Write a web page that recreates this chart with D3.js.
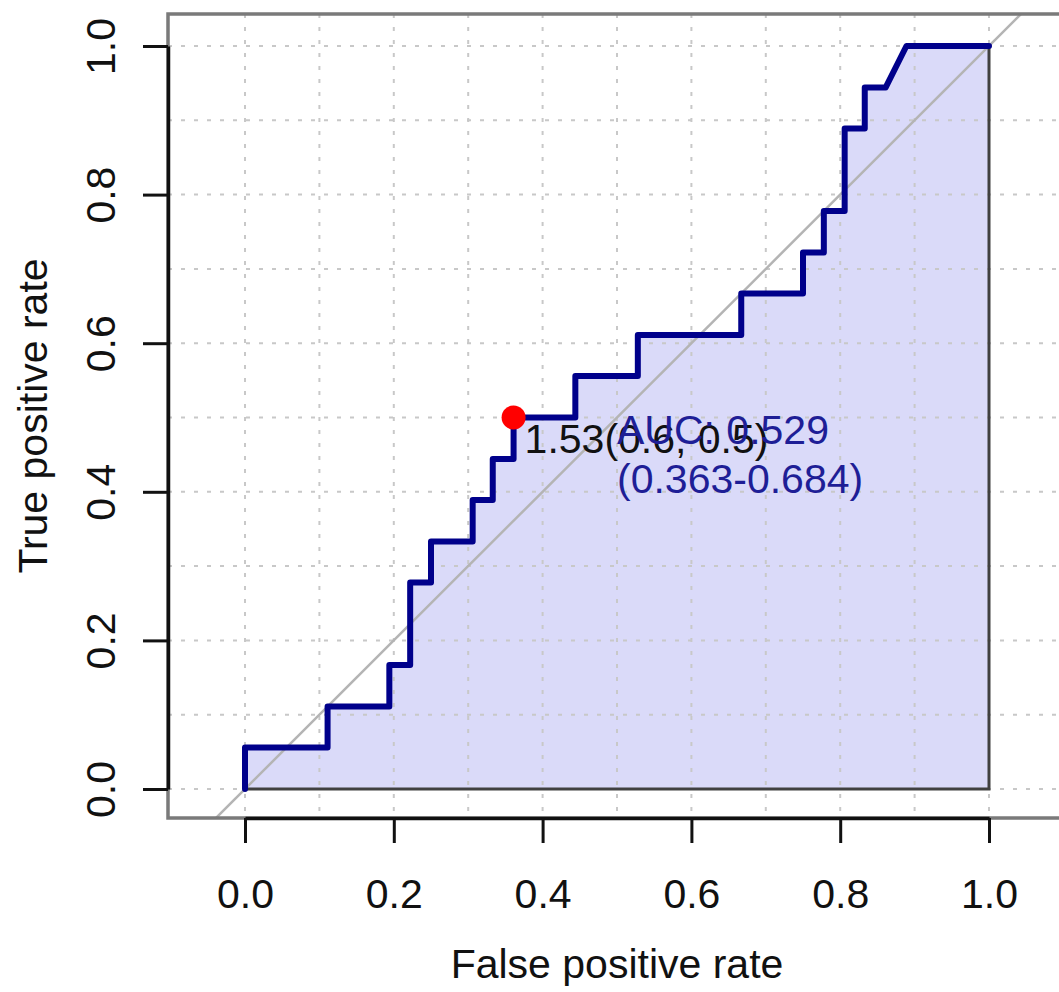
<!DOCTYPE html>
<html>
<head>
<meta charset="utf-8">
<script src="https://cdn.jsdelivr.net/npm/d3@7"></script>
<style>
  html, body { margin: 0; padding: 0; background: #fff; overflow: hidden; }
  svg { display: block; font-family: "Liberation Sans", Arial, sans-serif; }
</style>
</head>
<body>
<script>
// ---- data ----
const fpr = [0, 0, 0.111, 0.111, 0.194, 0.194, 0.222, 0.222, 0.25, 0.25, 0.306, 0.306, 0.333, 0.333, 0.361, 0.361, 0.444, 0.444, 0.528, 0.528, 0.667, 0.667, 0.75, 0.75, 0.778, 0.778, 0.806, 0.806, 0.833, 0.833, 0.861, 0.889, 1];
const tpr = [0, 0.056, 0.056, 0.111, 0.111, 0.167, 0.167, 0.278, 0.278, 0.333, 0.333, 0.389, 0.389, 0.444, 0.444, 0.5, 0.5, 0.556, 0.556, 0.611, 0.611, 0.667, 0.667, 0.722, 0.722, 0.778, 0.778, 0.889, 0.889, 0.944, 0.944, 1, 1];
const bestPoint = { fpr: 0.361, tpr: 0.5, label: "1.53(0.6, 0.5)" };
const aucLines = ["AUC: 0.529", "(0.363-0.684)"];
const axisTicks = [0, 0.2, 0.4, 0.6, 0.8, 1.0];
const gridTicks = [0, 0.1, 0.2, 0.3, 0.4, 0.5, 0.6, 0.7, 0.8, 0.9, 1.0];
const xTitle = "False positive rate";
const yTitle = "True positive rate";

// ---- layout ----
const W = 1059, H = 992;
const box = { left: 168, right: 1066, top: 14, bottom: 818 };
const x = d3.scaleLinear().domain([0, 1]).range([245, 989]);
const y = d3.scaleLinear().domain([0, 1]).range([789, 46]);
const FS = 41;
const curveCol = "#00008B";

const svg = d3.select("body").append("svg").attr("width", W).attr("height", H);

svg.append("defs").append("clipPath").attr("id", "plotclip")
  .append("rect").attr("x", box.left).attr("y", box.top)
  .attr("width", box.right - box.left).attr("height", box.bottom - box.top);

const plot = svg.append("g").attr("clip-path", "url(#plotclip)");

const pts = fpr.map((f, i) => [f, tpr[i]]);

// AUC polygon fill
const poly = pts.concat([[1, 0], [0, 0]]);
const lineGen = d3.line().x(d => x(d[0])).y(d => y(d[1]));
plot.append("path").attr("d", lineGen(poly) + "Z")
  .attr("fill", "#dadaf9").attr("stroke", "none");

// grid
plot.selectAll(".hgrid").data(gridTicks).enter().append("line")
  .attr("x1", box.left).attr("x2", box.right)
  .attr("y1", d => y(d)).attr("y2", d => y(d))
  .attr("stroke", "#c8c8c8").attr("stroke-width", 2).attr("stroke-dasharray", "4,9");
plot.selectAll(".vgrid").data(gridTicks).enter().append("line")
  .attr("y1", box.top).attr("y2", box.bottom)
  .attr("x1", d => x(d)).attr("x2", d => x(d))
  .attr("stroke", "#c8c8c8").attr("stroke-width", 2).attr("stroke-dasharray", "4,9");

// diagonal
plot.append("line")
  .attr("x1", x(-0.2)).attr("y1", y(-0.2)).attr("x2", x(1.2)).attr("y2", y(1.2))
  .attr("stroke", "#b4b4b4").attr("stroke-width", 2.5);

// polygon border
plot.append("path").attr("d", lineGen(poly) + "Z")
  .attr("fill", "none").attr("stroke", "#404040").attr("stroke-width", 3);

// ROC curve
plot.append("path").attr("d", lineGen(pts))
  .attr("fill", "none").attr("stroke", curveCol).attr("stroke-width", 6)
  .attr("stroke-linejoin", "round").attr("stroke-linecap", "round");

// best threshold point
plot.append("circle").attr("cx", x(bestPoint.fpr)).attr("cy", y(bestPoint.tpr))
  .attr("r", 12).attr("fill", "#ff0000");
svg.append("text").attr("x", x(bestPoint.fpr) + 11).attr("y", y(bestPoint.tpr) + 35)
  .attr("font-size", FS).attr("fill", "#111").text(bestPoint.label);

// AUC text
svg.append("g").selectAll("text").data(aucLines).enter().append("text")
  .attr("x", x(0.5)).attr("y", (d, i) => y(0.5) + 26 + i * 49)
  .attr("font-size", FS).attr("fill", "#1e1e96").text(d => d);

// box
svg.append("rect").attr("x", box.left).attr("y", box.top)
  .attr("width", box.right - box.left).attr("height", box.bottom - box.top)
  .attr("fill", "none").attr("stroke", "#7a7a7a").attr("stroke-width", 3.5);

// x axis
const xAxis = svg.append("g").attr("transform", `translate(0,${box.bottom})`)
  .call(d3.axisBottom(x).tickValues(axisTicks).tickSize(25).tickSizeOuter(0)
    .tickFormat(d3.format(".1f")));
xAxis.select(".domain").attr("stroke", "#111").attr("stroke-width", 3.5);
xAxis.selectAll(".tick line").attr("stroke", "#111").attr("stroke-width", 3);
xAxis.selectAll(".tick text").attr("y", 90).attr("dy", null)
  .attr("font-size", FS).attr("font-family", "Liberation Sans, Arial, sans-serif").attr("fill", "#111");

// y axis
const yAxis = svg.append("g").attr("transform", `translate(${box.left},0)`)
  .call(d3.axisLeft(y).tickValues(axisTicks).tickSize(25).tickSizeOuter(0)
    .tickFormat(d3.format(".1f")));
yAxis.select(".domain").attr("stroke", "#111").attr("stroke-width", 3.5);
yAxis.selectAll(".tick line").attr("stroke", "#111").attr("stroke-width", 3);
yAxis.selectAll(".tick text").attr("x", 0).attr("y", -53).attr("dy", null)
  .attr("transform", "rotate(-90)").attr("text-anchor", "middle")
  .attr("font-size", FS).attr("font-family", "Liberation Sans, Arial, sans-serif").attr("fill", "#111");

// titles
svg.append("text").attr("x", (box.left + box.right) / 2).attr("y", 978)
  .attr("text-anchor", "middle").attr("font-size", FS).attr("fill", "#111").text(xTitle);
svg.append("text").attr("transform", `translate(47,${(box.top + box.bottom) / 2}) rotate(-90)`)
  .attr("text-anchor", "middle").attr("font-size", FS).attr("fill", "#111").text(yTitle);
</script>
</body>
</html>
